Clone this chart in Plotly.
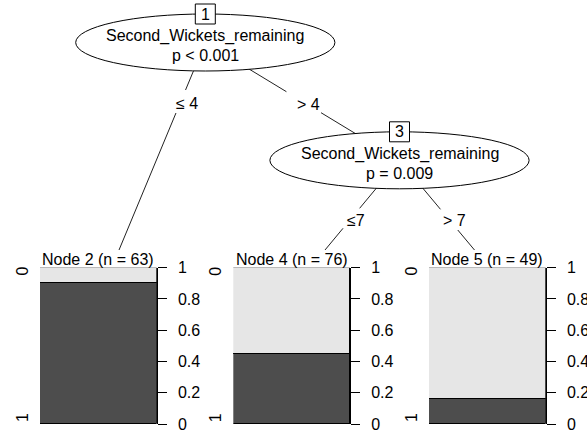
import plotly.graph_objects as go

# ---- data -------------------------------------------------------------
# terminal nodes of the conditional inference tree
node_ids = [2, 4, 5]
count_class0 = [6, 42, 41]     # outcome "0" (light, stacked on top)
count_class1 = [57, 34, 8]     # outcome "1" (dark, at the bottom)
class_labels = ["0", "1"]

# inner (split) nodes
inner_ids = [1, 3]
inner_vars = ["Second_Wickets_remaining", "Second_Wickets_remaining"]
inner_pvals = ["p &lt; 0.001", "p = 0.009"]

# edge labels (split conditions)
edge_labels = ["≤ 4", "&gt; 4", "≤7", "&gt; 7"]

tick_vals = [0, 0.2, 0.4, 0.6, 0.8, 1]
tick_text = ["0", "0.2", "0.4", "0.6", "0.8", "1"]

# ---- layout geometry (pixel space) -------------------------------------
W, H = 587, 434
FONT = "Liberation Sans, Arial, sans-serif"
FS = 16
LIGHT, DARK = "#E6E6E6", "#4D4D4D"

ellipse_center = {1: (205.3, 42.5), 3: (399.5, 160.3)}
ellipse_a, ellipse_b = 129.6, 28.5
terminal_top = {2: (119.0, 250.0), 4: (325.0, 250.0), 5: (474.5, 250.0)}
edges = [(1, 2), (1, 3), (3, 4), (3, 5)]
# vertical gap (y from, y to) left free around each edge label, and label centre
edge_gap = [(90.0, 113.0), (91.7, 112.7), (208.3, 228.3), (209.3, 230.0)]
edge_label_pos = [(186.5, 103.5), (308.3, 104.5), (356.0, 220.5), (454.0, 220.5)]

panel_left = [40.0, 233.3, 429.0]
panel_width = 116.7
panel_top, panel_bottom = 267.7, 424.0

fig = go.Figure()
shapes, annotations = [], []


def node_point(nid):
    return ellipse_center.get(nid) or terminal_top[nid]


def point_at_y(p0, p1, y):
    t = (y - p0[1]) / (p1[1] - p0[1])
    return (p0[0] + t * (p1[0] - p0[0]), y)


# edges, split around their labels
for (a, b), (g0, g1), lab, (lx, ly) in zip(edges, edge_gap, edge_labels, edge_label_pos):
    p0, p1 = node_point(a), node_point(b)
    q0, q1 = point_at_y(p0, p1, g0), point_at_y(p0, p1, g1)
    for s, e in ((p0, q0), (q1, p1)):
        shapes.append(dict(type="line", xref="x", yref="y", x0=s[0], y0=s[1],
                           x1=e[0], y1=e[1], line=dict(color="#222222", width=1)))
    annotations.append(dict(x=lx, y=ly, xref="x", yref="y", text=lab, showarrow=False,
                            xanchor="center", yanchor="middle",
                            font=dict(family=FONT, size=FS, color="black")))

# inner nodes: ellipse, id box and texts
for nid, var, pv in zip(inner_ids, inner_vars, inner_pvals):
    cx, cy = ellipse_center[nid]
    shapes.append(dict(type="circle", xref="x", yref="y",
                       x0=cx - ellipse_a, x1=cx + ellipse_a,
                       y0=cy - ellipse_b, y1=cy + ellipse_b,
                       fillcolor="white", line=dict(color="black", width=1)))
    by = cy - ellipse_b
    shapes.append(dict(type="rect", xref="x", yref="y",
                       x0=cx - 10, x1=cx + 10, y0=by - 10, y1=by + 10,
                       fillcolor="white", line=dict(color="black", width=1)))
    annotations.append(dict(x=cx, y=by, xref="x", yref="y", text=str(nid),
                            showarrow=False, xanchor="center", yanchor="middle",
                            font=dict(family=FONT, size=FS, color="black")))
    annotations.append(dict(x=cx, y=cy - 6.5, xref="x", yref="y", text=var,
                            showarrow=False, xanchor="center", yanchor="middle",
                            font=dict(family=FONT, size=FS, color="black")))
    annotations.append(dict(x=cx, y=cy + 13, xref="x", yref="y", text=pv,
                            showarrow=False, xanchor="center", yanchor="middle",
                            font=dict(family=FONT, size=FS, color="black")))

# hidden pixel-space axis for the tree drawing
fig.update_layout(
    xaxis=dict(range=[0, W], domain=[0, 1], visible=False, fixedrange=True,
               automargin=False),
    yaxis=dict(range=[H, 0], domain=[0, 1], visible=False, fixedrange=True,
               automargin=False),
)

# terminal nodes: stacked proportion bars
for i, nid in enumerate(node_ids):
    k = i + 2
    n = count_class0[i] + count_class1[i]
    p1 = count_class1[i] / n
    p0 = count_class0[i] / n
    xa, ya = f"x{k}", f"y{k}"
    fig.add_trace(go.Bar(x=[0], y=[p1], width=[1], marker=dict(color=DARK,
                         line=dict(color="black", width=1)),
                         xaxis=xa, yaxis=ya, showlegend=False, hoverinfo="skip"))
    fig.add_trace(go.Bar(x=[0], y=[p0], width=[1], marker=dict(color=LIGHT,
                         line=dict(color="black", width=1)),
                         xaxis=xa, yaxis=ya, showlegend=False, hoverinfo="skip"))
    x0 = panel_left[i] / W
    x1 = (panel_left[i] + panel_width) / W
    y0 = (H - panel_bottom) / H
    y1 = (H - panel_top) / H
    fig.layout[f"xaxis{k}"] = dict(domain=[x0, x1], range=[-0.5, 0.5], anchor=ya,
                                   visible=False, fixedrange=True, automargin=False)
    fig.layout[f"yaxis{k}"] = dict(domain=[y0, y1], range=[0, 1], anchor=xa,
                                   side="right", showline=True, linecolor="black",
                                   linewidth=1, ticks="outside", ticklen=9,
                                   tickwidth=1, tickcolor="black", showgrid=False,
                                   zeroline=False, tickvals=tick_vals,
                                   ticktext=tick_text, ticklabelstandoff=8,
                                   tickfont=dict(family=FONT, size=FS, color="black"),
                                   fixedrange=True, automargin=False)
    cx = panel_left[i] + panel_width / 2
    annotations.append(dict(x=cx, y=259, xref="x", yref="y",
                            text=f"Node {nid} (n = {n})", showarrow=False,
                            xanchor="center", yanchor="middle",
                            font=dict(family=FONT, size=FS, color="black")))
    # class labels along the left side, rotated
    for lab, yy in zip(class_labels, (271.5, 418.0)):
        annotations.append(dict(x=panel_left[i] - 18, y=yy, xref="x", yref="y",
                                text=lab, showarrow=False, textangle=-90,
                                xanchor="center", yanchor="middle",
                                font=dict(family=FONT, size=FS, color="black")))

fig.update_layout(
    width=W, height=H, margin=dict(l=0, r=0, t=0, b=0, autoexpand=False),
    paper_bgcolor="white", plot_bgcolor="white",
    barmode="stack", bargap=0, showlegend=False,
    shapes=shapes, annotations=annotations,
)

fig.write_html("out.html", config={"displayModeBar": False})
